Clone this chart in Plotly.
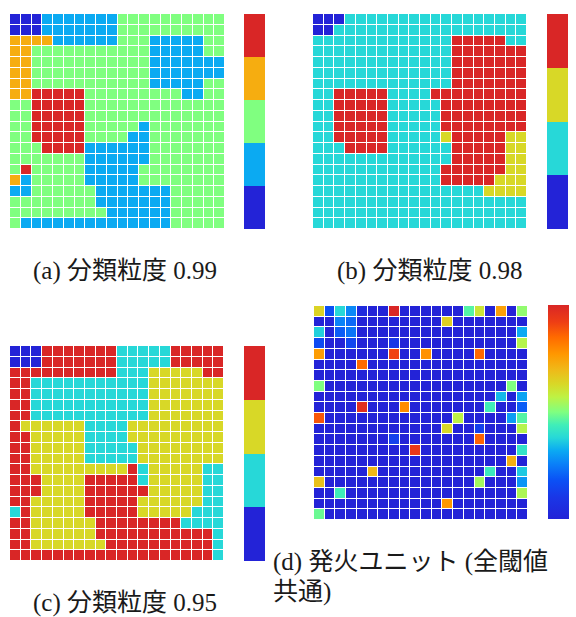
import numpy as np
import plotly.graph_objects as go

W, H = 576, 617

# Class maps (one digit per cell, row 0 at top)
# (a) 5 classes: 0 dark blue, 1 light blue, 2 green, 3 orange, 4 red
classes_a = [
    "00011111112222222222",
    "00011111112222222222",
    "33331111112221111122",
    "33222222222221111122",
    "33222222222221111111",
    "33222222222221111111",
    "33222222222221111122",
    "33444442222222221122",
    "22444442222222222222",
    "22444442222222222222",
    "22444442222212222222",
    "22444442222112222222",
    "22244441111112222222",
    "22222221111112222222",
    "24222221111122222222",
    "31222221111122222222",
    "11222222111111122222",
    "22222222111111122222",
    "22222222211111122222",
    "21111111111111122222",
]

# (b) 4 classes: 0 dark blue, 1 cyan, 2 yellow, 3 red
classes_b = [
    "00011111111111111111",
    "00111111111111111111",
    "11111111111113333311",
    "11111111111113333333",
    "11111111111113333333",
    "11111111111113333333",
    "11111111111113333333",
    "11333331111333333333",
    "11333331111133333333",
    "11333331111133333333",
    "11333331111133333333",
    "11333331111123333322",
    "11133331111113333322",
    "11111111111113333322",
    "11111111111133333322",
    "11111111111133333222",
    "11111111111111112222",
    "11111111111111111111",
    "11111111111111111111",
    "11111111111111111111",
]

# (c) 4 classes: 0 dark blue, 1 cyan, 2 yellow, 3 red
classes_c = [
    "00033333331111133333",
    "00033333331111133333",
    "33333333331112222233",
    "33111111111112222222",
    "33111111111112222222",
    "33111111111112222222",
    "33111111111112222222",
    "32222221111222222222",
    "33222221111222222222",
    "33222221111122222222",
    "33222221111122222222",
    "33222222222312222211",
    "33322223333312222211",
    "33322223333332222211",
    "33222223333322222211",
    "13222223333322222111",
    "33222222333333331111",
    "33222222333333333331",
    "33222222233333333331",
    "33333333333333333331",
]

# (d) firing units: (row, col, activation); every other cell is 0
fire_rows = [0, 0, 0, 0, 0, 0, 0, 0, 0, 0,
             1, 1, 1,
             2, 2, 2, 2,
             3, 3, 3, 3,
             4, 4, 4, 4,
             5,
             7, 7,
             8, 8,
             9, 9, 9, 9,
             10, 10, 10, 10,
             11, 11, 11,
             12, 12,
             13, 13,
             14,
             15, 15, 15,
             16, 16, 16,
             17, 17,
             18,
             19]
fire_cols = [0, 1, 2, 3, 4, 7, 14, 15, 17, 19,
             2, 3, 12,
             0, 2, 3, 19,
             0, 3, 7, 19,
             0, 7, 10, 15,
             4,
             0, 18,
             17, 19,
             4, 8, 16, 19,
             0, 13, 18, 19,
             12, 15, 19,
             7, 15,
             9, 19,
             18,
             5, 16, 19,
             0, 15, 19,
             2, 19,
             12,
             0]
fire_vals = [0.64, 0.18, 0.38, 0.27, 0.04, 1.00, 0.46, 0.60, 0.75, 0.52,
             0.26, 0.22, 0.65,
             0.37, 0.20, 0.24, 0.32,
             0.16, 0.15, 0.10, 0.56,
             0.76, 0.91, 0.78, 0.85,
             0.85,
             0.50, 0.50,
             0.34, 0.31,
             0.97, 0.79, 0.44, 0.20,
             0.88, 0.57, 0.30, 0.46,
             0.63, 0.13, 0.56,
             0.13, 0.86,
             0.94, 0.41,
             0.72,
             0.70, 0.43, 0.36,
             0.68, 0.54, 0.29,
             0.44, 0.55,
             0.77,
             0.48]

captions = ["(a) 分類粒度 0.99", "(b) 分類粒度 0.98", "(c) 分類粒度 0.95"]
caption_d = ["(d) 発火ユニット (全閾値", "共通)"]

# palette
DARK_BLUE = "#2323D7"
LIGHT_BLUE = "#0BAAF2"
GREEN = "#80FF80"
ORANGE = "#F6AD10"
RED = "#D92626"
CYAN = "#27D8D8"
YELLOW = "#D8D827"

colors_a = [DARK_BLUE, LIGHT_BLUE, GREEN, ORANGE, RED]
colors_bc = [DARK_BLUE, CYAN, YELLOW, RED]

jet_like = [
    [0.00, "#2323D7"],
    [0.10, "#1A36E6"],
    [0.18, "#0B50F5"],
    [0.26, "#0A82F8"],
    [0.32, "#0BAAF2"],
    [0.38, "#27D8D8"],
    [0.44, "#40EEB8"],
    [0.50, "#80FF80"],
    [0.57, "#BEF244"],
    [0.63, "#D8D827"],
    [0.70, "#F0B818"],
    [0.77, "#FF9800"],
    [0.85, "#FF6A00"],
    [0.92, "#EE3E14"],
    [1.00, "#D92626"],
]


def to_grid(rows):
    return np.array([[int(ch) for ch in r] for r in rows])


def stepped(colors):
    n = len(colors)
    scale = []
    for i, c in enumerate(colors):
        scale.append([i / n, c])
        scale.append([(i + 1) / n, c])
    return scale


fire_grid = np.zeros((20, 20))
for r, c, v in zip(fire_rows, fire_cols, fire_vals):
    fire_grid[r, c] = v


def px_x(p):
    return p / W


def px_y(p):
    return 1 - p / H


# pixel boxes: (left, right, top, bottom) for map, and colorbar left/top/bottom
panels = [
    dict(z=to_grid(classes_a), colors=colors_a, box=(10, 225, 14, 229), cb=(244, 14, 229)),
    dict(z=to_grid(classes_b), colors=colors_bc, box=(313, 527, 14, 229), cb=(547, 14, 229)),
    dict(z=to_grid(classes_c), colors=colors_bc, box=(10, 224, 346, 561), cb=(244, 346, 561)),
    dict(z=fire_grid, colors=None, box=(314, 528, 306, 520), cb=(548, 305, 519)),
]

fig = go.Figure()
layout_axes = {}
for i, p in enumerate(panels):
    k = "" if i == 0 else str(i + 1)
    left, right, top, bottom = p["box"]
    cbx, cbt, cbb = p["cb"]
    cb = dict(
        x=px_x(cbx), xanchor="left", xpad=0, ypad=0,
        y=px_y((cbt + cbb) / 2), yanchor="middle",
        len=cbb - cbt, lenmode="pixels",
        thickness=21, thicknessmode="pixels",
        outlinewidth=0, ticks="", showticklabels=False,
    )
    if p["colors"] is not None:
        n = len(p["colors"])
        trace = go.Heatmap(z=p["z"], colorscale=stepped(p["colors"]),
                           zmin=-0.5, zmax=n - 0.5, xgap=1, ygap=1,
                           colorbar=cb, xaxis="x" + k, yaxis="y" + k,
                           hoverinfo="skip")
    else:
        trace = go.Heatmap(z=p["z"], colorscale=jet_like, zmin=0, zmax=1,
                           xgap=1, ygap=1, colorbar=cb,
                           xaxis="x" + k, yaxis="y" + k, hoverinfo="skip")
    fig.add_trace(trace)
    ax = dict(showgrid=False, zeroline=False, showticklabels=False,
              ticks="", showline=False)
    layout_axes["xaxis" + k] = dict(ax, domain=[px_x(left), px_x(right)],
                                    range=[-0.5, 19.5], anchor="y" + k)
    layout_axes["yaxis" + k] = dict(ax, domain=[px_y(bottom), px_y(top)],
                                    range=[19.5, -0.5], anchor="x" + k)

cap_font = dict(family="Liberation Serif, Noto Sans CJK JP", size=25, color="#1a1a1a")
annotations = [
    dict(text=captions[0], x=px_x(125), y=px_y(271)),
    dict(text=captions[1], x=px_x(429), y=px_y(271)),
    dict(text=captions[2], x=px_x(125), y=px_y(603)),
]
annotations = [dict(a, xref="paper", yref="paper", xanchor="center",
                    yanchor="middle", showarrow=False, font=cap_font)
               for a in annotations]
annotations.append(dict(text=caption_d[0], x=px_x(271), y=px_y(562),
                        xref="paper", yref="paper", xanchor="left",
                        yanchor="middle", showarrow=False, font=cap_font))
annotations.append(dict(text=caption_d[1], x=px_x(271), y=px_y(592),
                        xref="paper", yref="paper", xanchor="left",
                        yanchor="middle", showarrow=False, font=cap_font))

fig.update_layout(
    width=W, height=H,
    margin=dict(l=0, r=0, t=0, b=0),
    paper_bgcolor="white", plot_bgcolor="white",
    showlegend=False,
    annotations=annotations,
    **layout_axes,
)

fig.write_html("out.html")
